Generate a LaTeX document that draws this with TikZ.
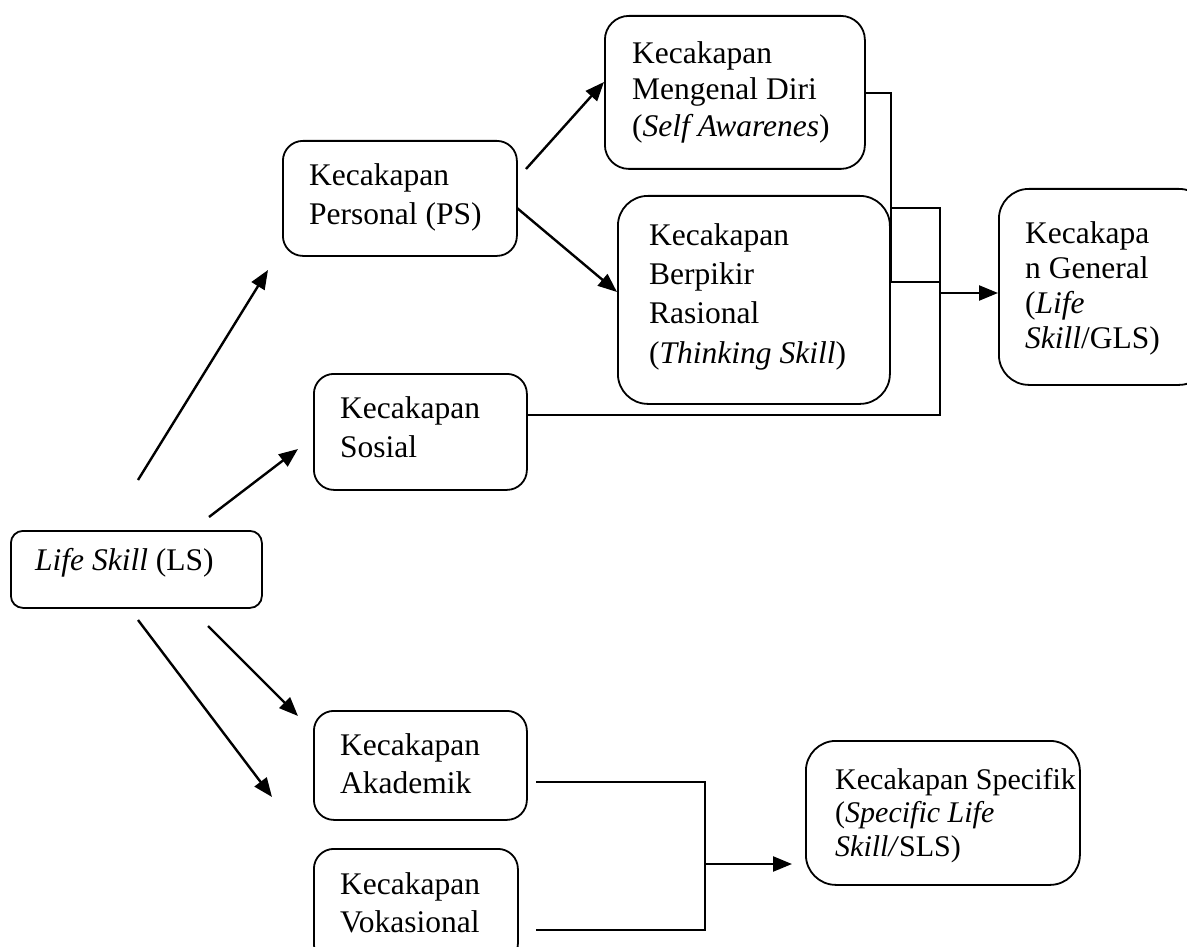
\documentclass[tikz,border=0pt]{standalone}
\usepackage{fontspec}
\setmainfont{Liberation Serif}
\usetikzlibrary{arrows.meta}
\begin{document}
\begin{tikzpicture}[x=1pt,y=-1pt,
  box/.style={draw, line width=1.8pt, rounded corners=#1, inner sep=0pt, anchor=north west},
  txt/.style={anchor=north west, inner sep=0pt, align=left, font=\fontsize{31.5}{#1}\selectfont},
  arr/.style={line width=2.4pt, -{Triangle[length=19pt,width=15pt]}},
  ln/.style={line width=1.8pt}]
\useasboundingbox (0,0) rectangle (1187,947);

% boxes
\node[box=12pt, minimum width=251pt, minimum height=77pt] (ls) at (10,530) {};
\node[box=20pt, minimum width=234pt, minimum height=115pt] (ps) at (282,140) {};
\node[box=24pt, minimum width=260pt, minimum height=153pt] (md) at (604,15) {};
\node[box=30pt, minimum width=272pt, minimum height=208pt] (br) at (617,195) {};
\node[box=20pt, minimum width=213pt, minimum height=116pt] (so) at (313,373) {};
\node[box=30pt, minimum width=210pt, minimum height=196pt] (gls) at (998,188) {};
\node[box=20pt, minimum width=213pt, minimum height=109pt] (ak) at (313,710) {};
\node[box=20pt, minimum width=204pt, minimum height=115pt] (vo) at (313,848) {};
\node[box=30pt, minimum width=274pt, minimum height=144pt] (sls) at (805,740) {};

% texts
\node[txt=39] (lst) at (35,546) {\rule{0pt}{24pt}\textit{Life Skill} (LS)};
\node[txt=39] (pst) at (309,161) {\rule{0pt}{24pt}Kecakapan\\Personal (PS)};
\node[txt=36.5] (mdt) at (632,39) {\rule{0pt}{24pt}Kecakapan\\Mengenal Diri\\(\textit{Self Awarenes})};
\node[txt=39.3] (brt) at (649,221) {\rule{0pt}{24pt}Kecakapan\\Berpikir\\Rasional\\(\textit{Thinking Skill})};
\node[txt=39] (sot) at (340,394) {\rule{0pt}{24pt}Kecakapan\\Sosial};
\node[txt=35] (glst) at (1025,219) {\rule{0pt}{24pt}Kecakapa\\n General\\(\textit{Life}\\\textit{Skill}/GLS)};
\node[txt=38] (akt) at (340,731) {\rule{0pt}{24pt}Kecakapan\\Akademik};
\node[txt=38] (vot) at (340,870) {\rule{0pt}{24pt}Kecakapan\\Vokasional};
\node[txt=33.5, font=\fontsize{30}{33.5}\selectfont] (slst) at (835,766) {\rule{0pt}{23pt}Kecakapan Specifik\\(\textit{Specific Life}\\\textit{Skill/}SLS)};

% free ends of arrows
\coordinate (a1s) at (138,480); \coordinate (a1e) at (268,270);
\coordinate (a2s) at (209,517); \coordinate (a2e) at (298,449);
\coordinate (a3s) at (208,626); \coordinate (a3e) at (298,716);
\coordinate (a4s) at (138,620); \coordinate (a4e) at (272,797);
\coordinate (a5s) at (526,169); \coordinate (a5e) at (604,82);
\coordinate (a6s) at (517,208); \coordinate (a6e) at (617,292);

\draw[arr] (a1s) -- (a1e);
\draw[arr] (a2s) -- (a2e);
\draw[arr] (a3s) -- (a3e);
\draw[arr] (a4s) -- (a4e);
\draw[arr] (a5s) -- (a5e);
\draw[arr] (a6s) -- (a6e);

% general life skill connectors
\coordinate (j1) at (891,93);
\coordinate (j1b) at (891,282);
\coordinate (j2) at (940,415);
\coordinate (j2t) at (891,208);
\coordinate (j3) at (940,293);
\draw[ln] (md.east |- j1) -- (j1) -- (j1b) -- (j1b -| j3);
\draw[ln] (so.east |- j2) -- (j2) -- (j2 |- j2t) -- (j2t);
\draw[arr] (j3) -- (gls.west |- j3);

% specific life skill connectors
\coordinate (k1) at (536,782);
\coordinate (k2) at (536,930);
\coordinate (kv) at (705,782);
\coordinate (km) at (705,864);
\coordinate (ke) at (792,864);
\draw[ln] (k1) -- (kv) -- (kv |- k2) -- (k2);
\draw[arr] (km) -- (ke);
\end{tikzpicture}
\end{document}
